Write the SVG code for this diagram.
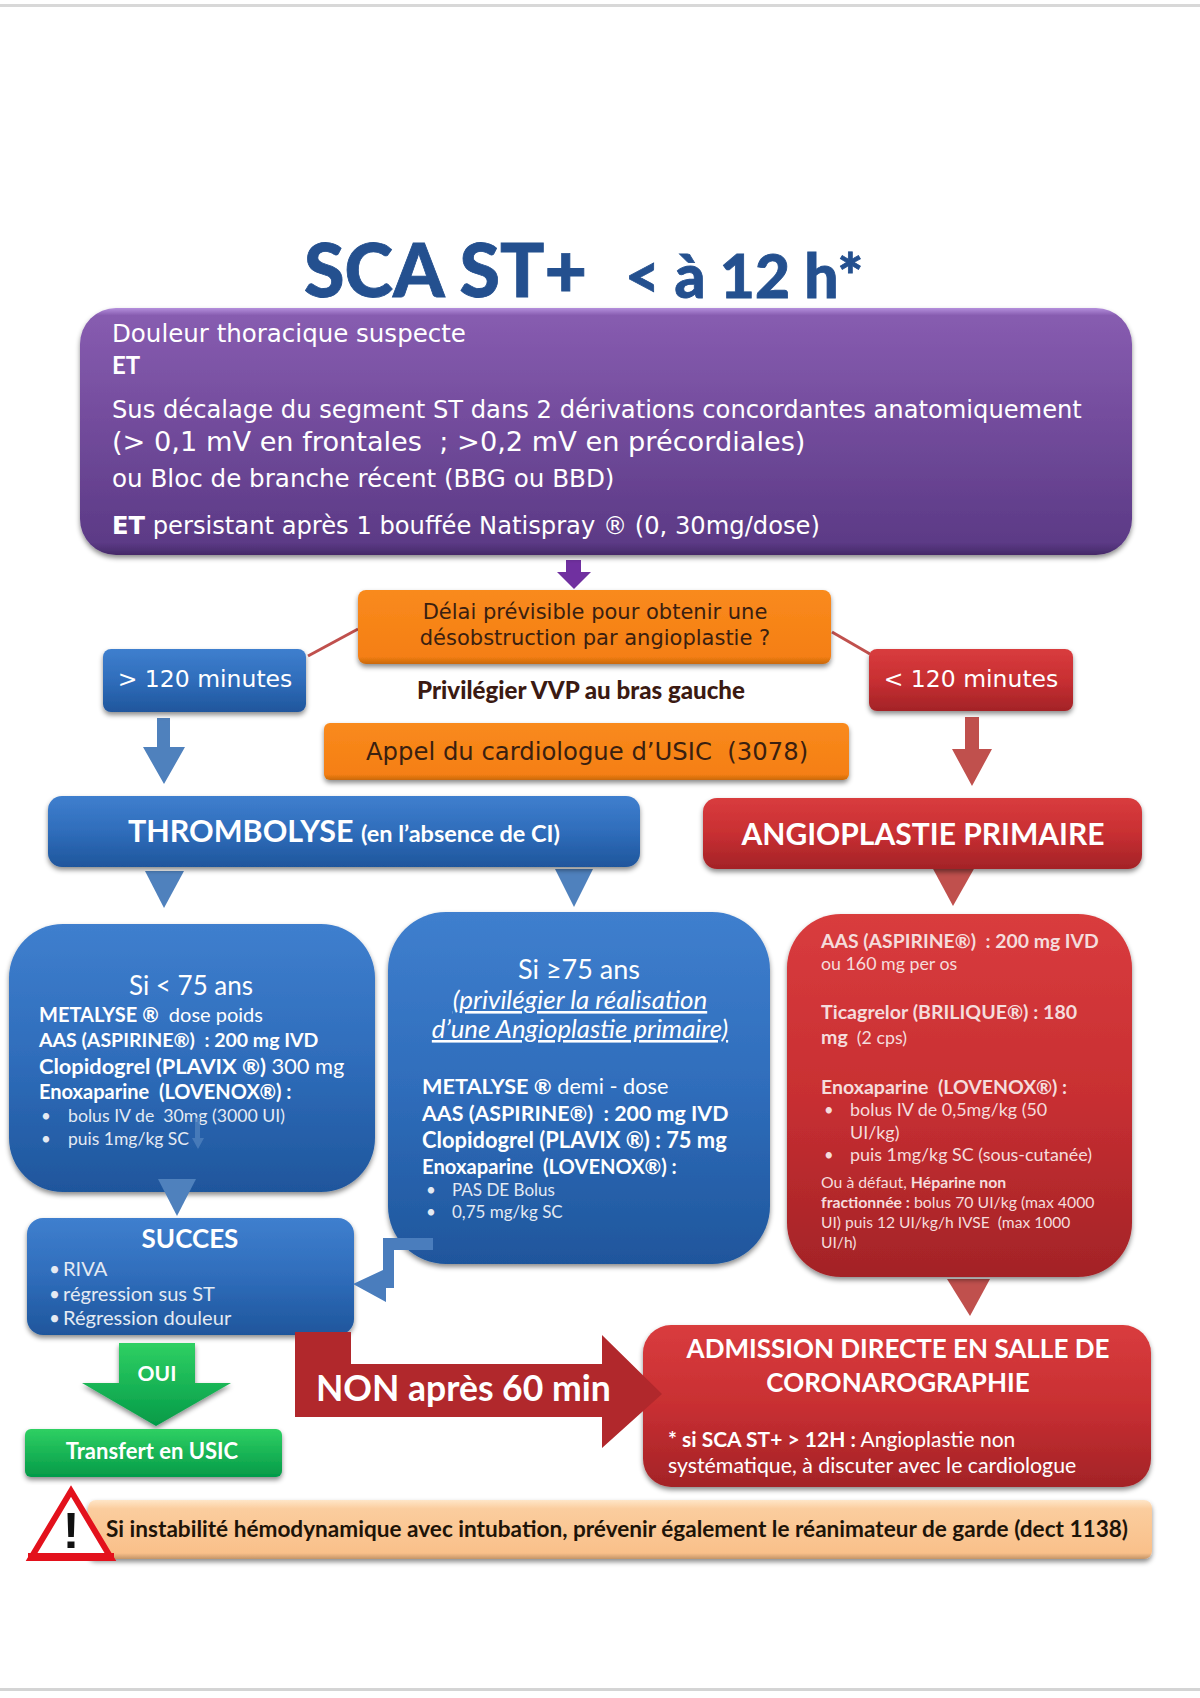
<svg xmlns="http://www.w3.org/2000/svg" width="1200" height="1698" viewBox="0 0 1200 1698">
<defs>
<linearGradient id="gP" x1="0" y1="0" x2="0" y2="1"><stop offset="0" stop-color="#b48fdc"/><stop offset="0.03" stop-color="#875cb0"/><stop offset="0.95" stop-color="#5c3a86"/><stop offset="1" stop-color="#452a68"/></linearGradient>
<linearGradient id="gB" x1="0" y1="0" x2="0" y2="1"><stop offset="0" stop-color="#3f7fce"/><stop offset="0.5" stop-color="#2f6dbb"/><stop offset="1" stop-color="#1f569c"/></linearGradient>
<linearGradient id="gR" x1="0" y1="0" x2="0" y2="1"><stop offset="0" stop-color="#d93c3e"/><stop offset="0.5" stop-color="#c82f32"/><stop offset="1" stop-color="#a32327"/></linearGradient>
<linearGradient id="gO" x1="0" y1="0" x2="0" y2="1"><stop offset="0" stop-color="#f98a1e"/><stop offset="0.9" stop-color="#f57f12"/><stop offset="1" stop-color="#c9690f"/></linearGradient>
<linearGradient id="gG" x1="0" y1="0" x2="0" y2="1"><stop offset="0" stop-color="#2fd063"/><stop offset="1" stop-color="#049a48"/></linearGradient>
<linearGradient id="gN" x1="0" y1="0" x2="0" y2="1"><stop offset="0" stop-color="#ffe6c8"/><stop offset="0.15" stop-color="#fbcd9e"/><stop offset="0.9" stop-color="#f9c08a"/><stop offset="1" stop-color="#c39468"/></linearGradient>
<filter id="sh" x="-5%" y="-10%" width="110%" height="125%"><feDropShadow dx="0" dy="3" stdDeviation="2.5" flood-color="#000" flood-opacity="0.45"/></filter>
</defs>
<style>
text{font-family:"Lato","Liberation Sans",sans-serif;fill:#fff;white-space:pre}
.v{font-family:"DejaVu Sans","Noto Sans",sans-serif}
.b{font-weight:700}
.d{fill:#3a2010}
.m{text-anchor:middle}
.c{fill:#e4eaf3}
.sh{filter:url(#sh)}
.ln{stroke:#c0504d;stroke-width:3;fill:none}
.ab{fill:#4f81bd}
.ar{fill:#c0504d}
.t{fill:#24508f;font-weight:900;stroke:#24508f;stroke-width:0.8}
.rt{fill:#f5dcdc}
</style>
<rect width="1200" height="1698" fill="#fff"/>
<rect id="top-rule" x="0" y="4" width="1200" height="3" fill="#d8d8d8"/>
<rect id="bottom-rule" x="0" y="1688" width="1200" height="3" fill="#d4d4d4"/>

<text id="title" class="t" x="304" y="297" font-size="73.5">SCA ST+</text>
<text id="title2" class="t" x="625" y="298" font-size="60.5">&lt; à 12 h*</text>

<g id="connectors">
<line class="ln" x1="358" y1="629" x2="308" y2="656"/>
<line class="ln" x1="832" y1="632" x2="870" y2="654"/>
<path d="M566,560h15v12h10l-17,17l-17,-17h9z" fill="#7030a0"/>
<path class="ab" d="M157,718h13v29h15l-21,37l-21,-37h14z"/>
<path class="ar" d="M965,717h14v32h13l-20,37l-20,-37h13z"/>
<path class="ab" d="M145,871h39l-20,37z"/>
<path class="ab" d="M555,869h38l-19,38z"/>
<path class="ar" d="M932,867h43l-22,39z"/>
<path class="ar" d="M947,1279h43l-20,37z"/>
</g>

<g id="n-purple">
<rect class="sh" x="80" y="308" width="1052" height="247" rx="36" fill="url(#gP)"/>
<text class="v" x="112" y="342" font-size="24.5">Douleur thoracique suspecte</text>
<text class="b" x="112" y="374" font-size="24">ET</text>
<text class="v" x="112" y="418" font-size="24.2">Sus décalage du segment ST dans 2 dérivations concordantes anatomiquement</text>
<text class="v" x="112" y="451" font-size="27.2">(&gt; 0,1 mV en frontales  ; &gt;0,2 mV en précordiales)</text>
<text class="v" x="112" y="487" font-size="24.6">ou Bloc de branche récent (BBG ou BBD)</text>
<text class="v" x="112" y="534" font-size="24.2"><tspan class="b">ET</tspan> persistant après 1 bouffée Natispray ® (0, 30mg/dose)</text>
</g>

<g id="n-delai">
<rect class="sh" x="358" y="590" width="473" height="74" rx="8" fill="url(#gO)"/>
<text class="v d m" x="595" y="619" font-size="21">Délai prévisible pour obtenir une</text>
<text class="v d m" x="595" y="645" font-size="21">désobstruction par angioplastie ?</text>
</g>
<g id="n-gt120">
<rect class="sh" x="103" y="649" width="203" height="63" rx="8" fill="url(#gB)"/>
<text class="v m" x="205" y="687" font-size="23.5">&gt; 120 minutes</text>
</g>
<g id="n-lt120">
<rect class="sh" x="869" y="649" width="204" height="62" rx="8" fill="url(#gR)"/>
<text class="v m" x="971" y="687" font-size="23.5">&lt; 120 minutes</text>
</g>
<g id="n-vvp">
<text class="d" x="417" y="699" font-size="24.1" style="font-weight:900;fill:#3b1a12">Privilégier VVP au bras gauche</text>
</g>
<g id="n-appel">
<rect class="sh" x="324" y="723" width="525" height="57" rx="6" fill="url(#gO)"/>
<text class="v d" x="366" y="760" font-size="24.3">Appel du cardiologue d’USIC  (3078)</text>
</g>

<g id="n-thrombolyse">
<rect class="sh" x="48" y="796" width="592" height="71" rx="14" fill="url(#gB)"/>
<text class="b" x="128" y="842" font-size="30.5">THROMBOLYSE <tspan font-size="23.5">(en l’absence de CI)</tspan></text>
</g>
<g id="n-angioplastie">
<rect class="sh" x="703" y="798" width="439" height="71" rx="14" fill="url(#gR)"/>
<text class="b m" x="923" y="845" font-size="30">ANGIOPLASTIE PRIMAIRE</text>
</g>

<g id="n-lt75">
<rect class="sh" x="9" y="924" width="366" height="268" rx="54" fill="url(#gB)"/>
<text class="m" x="191" y="995" font-size="26">Si &lt; 75 ans</text>
<text x="39" y="1022" font-size="20"><tspan class="b">METALYSE ®</tspan>  dose poids</text>
<text class="b" x="39" y="1047" font-size="19.5">AAS (ASPIRINE®)  : 200 mg IVD</text>
<text x="39" y="1074" font-size="21.8"><tspan class="b">Clopidogrel (PLAVIX ®)</tspan> 300 mg</text>
<text class="b" x="39" y="1099" font-size="20">Enoxaparine  (LOVENOX®) :</text>
<text class="c" x="41" y="1122" font-size="17">•</text><text class="c" x="68" y="1122" font-size="17.7">bolus IV de  30mg (3000 UI)</text>
<text class="c" x="41" y="1145" font-size="17">•</text><text class="c" x="68" y="1145" font-size="17.5">puis 1mg/kg SC</text>
<path d="M195,1118h5v20h4l-6,11l-6,-11h3z" fill="#4f81bd" opacity="0.8"/>
</g>
<g id="n-ge75">
<rect class="sh" x="388" y="912" width="382" height="352" rx="58" fill="url(#gB)"/>
<text class="m" x="579" y="979" font-size="27">Si ≥75 ans</text>
<text class="m" x="580" y="1009" font-size="26" font-style="italic" text-decoration="underline">(privilégier la réalisation</text>
<text class="m" x="580" y="1038" font-size="25.8" font-style="italic" text-decoration="underline">d’une Angioplastie primaire)</text>
<text x="422" y="1094" font-size="21.7"><tspan class="b">METALYSE ®</tspan> demi - dose</text>
<text class="b" x="422" y="1121" font-size="21.4">AAS (ASPIRINE®)  : 200 mg IVD</text>
<text class="b" x="422" y="1148" font-size="21.9">Clopidogrel (PLAVIX ®) : 75 mg</text>
<text class="b" x="422" y="1174" font-size="20.2">Enoxaparine  (LOVENOX®) :</text>
<text class="c" x="426" y="1196" font-size="17">•</text><text class="c" x="452" y="1196" font-size="17">PAS DE Bolus</text>
<text class="c" x="426" y="1218" font-size="17">•</text><text class="c" x="452" y="1218" font-size="17">0,75 mg/kg SC</text>
</g>
<g id="n-succes">
<rect class="sh" x="27" y="1218" width="327" height="117" rx="16" fill="url(#gB)"/>
<text class="b m" x="190" y="1248" font-size="26">SUCCES</text>
<text class="c" x="49" y="1276" font-size="19">•</text><text class="c" x="63" y="1276" font-size="20.1">RIVA</text>
<text class="c" x="49" y="1301" font-size="19">•</text><text class="c" x="63" y="1301" font-size="20.1">régression sus ST</text>
<text class="c" x="49" y="1325" font-size="19">•</text><text class="c" x="63" y="1325" font-size="20.1">Régression douleur</text>
</g>
<g id="n-red-protocol">
<rect class="sh" x="787" y="914" width="345" height="363" rx="54" fill="url(#gR)"/>
<text class="b rt" x="821" y="948" font-size="19.4">AAS (ASPIRINE®)  : 200 mg IVD</text>
<text class="rt" x="821" y="970" font-size="17.8">ou 160 mg per os</text>
<text class="b rt" x="821" y="1019" font-size="19.6">Ticagrelor (BRILIQUE®) : 180</text>
<text class="rt" x="821" y="1044" font-size="17.8"><tspan class="b" font-size="19.6">mg</tspan>  (2 cps)</text>
<text class="b rt" x="821" y="1094" font-size="19.5">Enoxaparine  (LOVENOX®) :</text>
<text class="rt" x="824" y="1116" font-size="16.5">•</text><text class="rt" x="850" y="1116" font-size="17.9">bolus IV de 0,5mg/kg (50</text>
<text class="rt" x="850" y="1139" font-size="17.9">UI/kg)</text>
<text class="rt" x="824" y="1161" font-size="16.5">•</text><text class="rt" x="850" y="1161" font-size="17.9">puis 1mg/kg SC (sous-cutanée)</text>
<text class="rt" x="821" y="1188" font-size="15.8">Ou à défaut, <tspan class="b">Héparine non</tspan></text>
<text class="rt" x="821" y="1208" font-size="15.8"><tspan class="b">fractionnée :</tspan> bolus 70 UI/kg (max 4000</text>
<text class="rt" x="821" y="1228" font-size="15.6">UI) puis 12 UI/kg/h IVSE  (max 1000</text>
<text class="rt" x="821" y="1248" font-size="15.6">UI/h)</text>
</g>
<g id="n-admission">
<rect class="sh" x="643" y="1325" width="508" height="162" rx="28" fill="url(#gR)"/>
<text class="b m" x="898" y="1358" font-size="26">ADMISSION DIRECTE EN SALLE DE</text>
<text class="b m" x="898" y="1392" font-size="26">CORONAROGRAPHIE</text>
<text x="668" y="1447" font-size="21"><tspan class="b">* si SCA ST+ &gt; 12H :</tspan> Angioplastie non</text>
<text x="668" y="1473" font-size="21.3">systématique, à discuter avec le cardiologue</text>
</g>
<g id="connectors-2">
<path class="ab" d="M158,1179h38l-19,37z"/>
<path d="M433,1238H383V1270L353,1284L386,1302V1288H394V1250H433Z" fill="#4a7dbd"/>
</g>
<g id="n-non">
<path d="M295,1332H351V1364H602V1335L662,1394L602,1448V1417H295Z" fill="#b1282c"/>
<text class="b" x="316" y="1401" font-size="35.5">NON après 60 min</text>
</g>
<g id="n-oui">
<path class="sh" d="M119,1343H195V1383H231L156,1426L82,1383H119Z" fill="url(#gG)"/>
<text class="b m" x="157" y="1381" font-size="21">OUI</text>
</g>
<g id="n-transfert">
<rect class="sh" x="25" y="1429" width="257" height="48" rx="6" fill="url(#gG)"/>
<text class="b m" x="152" y="1459" font-size="22">Transfert en USIC</text>
</g>
<g id="n-warning">
<rect class="sh" x="88" y="1500" width="1064" height="59" rx="8" fill="url(#gN)"/>
<text class="b" x="106" y="1537" font-size="22.6" style="fill:#1e1408">Si instabilité hémodynamique avec intubation, prévenir également le réanimateur de garde (dect 1138)</text>
</g>
<g id="n-warning-icon">
<path d="M71,1491L111,1558H31Z" fill="#fff" stroke="#e3111c" stroke-width="6" stroke-linejoin="miter"/>
<rect x="28" y="1553" width="86" height="8" fill="#e3111c"/>
<text x="71" y="1548" text-anchor="middle" style="fill:#111;font-weight:700;font-size:50px;font-family:'Liberation Sans',sans-serif">!</text>
</g>
</svg>
